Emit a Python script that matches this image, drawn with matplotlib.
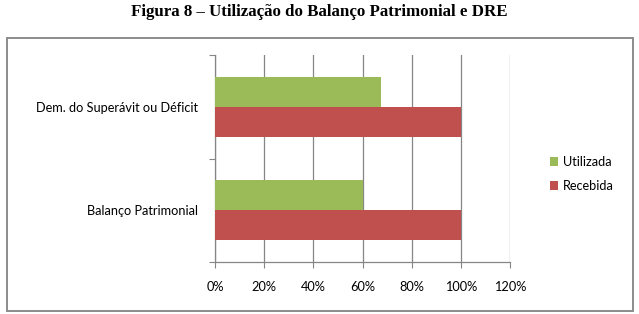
import matplotlib
matplotlib.use("Agg")
import matplotlib.pyplot as plt
from matplotlib.patches import Rectangle

categories = ["Balanço Patrimonial", "Dem. do Superávit ou Déficit"]
recebida = [100, 100]
utilizada = [60, 67.5]
xticks = [0, 20, 40, 60, 80, 100, 120]
title = "Figura 8 – Utilização do Balanço Patrimonial e DRE"

W, H = 639, 314
fig = plt.figure(figsize=(W / 100, H / 100), dpi=100)
fig.patch.set_facecolor("white")

# outer frame
fig.add_artist(Rectangle((7 / W, 1 - 311 / H), (633 - 7) / W, (311 - 38) / H,
                         transform=fig.transFigure, fill=False,
                         edgecolor="#8c8c8c", linewidth=1.4))

fig.text(0.5, 1 - 12 / H, title, ha="center", va="center",
         fontsize=12.2, fontweight="bold", family="Liberation Serif")

ax = fig.add_axes([215 / W, 1 - 262 / H, (510 - 215) / W, (262 - 55) / H])
h = 0.29
y = list(range(len(categories)))
ax.barh([v - h / 2 for v in y], recebida, height=h, color="#C0504D", label="Recebida", zorder=3)
ax.barh([v + h / 2 for v in y], utilizada, height=h, color="#9BBB59", label="Utilizada", zorder=3)

fs = 9.2
ax.set_xlim(0, 120)
ax.set_ylim(-0.5, len(categories) - 0.5)
ax.set_xticks(xticks)
ax.set_xticklabels([f"{t}%" for t in xticks], family="Lato", fontsize=fs)
ax.set_yticks([-0.5, 0.5, 1.5])
ax.set_yticklabels([])
ax.set_yticks(y, minor=True)
ax.set_yticklabels(categories, minor=True, family="Lato", fontsize=fs)
ax.tick_params(axis="y", which="minor", length=0, pad=12)
ax.tick_params(axis="y", which="major", length=4, color="#868686")
ax.tick_params(axis="x", length=4, color="#868686", pad=10)
ax.grid(axis="x", color="#868686", linewidth=0.9, zorder=0)
for s in ["top", "right"]:
    ax.spines[s].set_visible(False)
for s in ["left", "bottom"]:
    ax.spines[s].set_color("#868686")
    ax.spines[s].set_linewidth(0.9)

handles, labels = ax.get_legend_handles_labels()
leg = fig.legend(handles[::-1], labels[::-1], loc="center left",
                 bbox_to_anchor=(538 / W, 1 - 174 / H), frameon=False,
                 prop={"family": "Lato", "size": fs},
                 handlelength=0.7, handleheight=0.7, handletextpad=0.35,
                 labelspacing=1.0)

fig.savefig("out.png", dpi=100)
